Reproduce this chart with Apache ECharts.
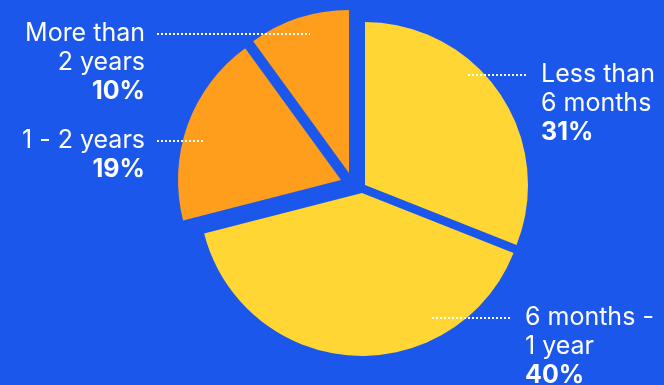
<!DOCTYPE html>
<html>
<head>
<meta charset="utf-8">
<script src="https://cdn.jsdelivr.net/npm/echarts@6/dist/echarts.min.js"></script>
<style>
  html, body { margin: 0; padding: 0; background: #1b57eb; }
  #chart { width: 664px; height: 385px; }
</style>
</head>
<body>
<div id="chart"></div>
<script>
const categories = ['Less than\n6 months', '6 months -\n1 year', '1 - 2 years', 'More than\n2 years']
const shares = [31, 40, 19, 10]

const sliceColors = ['#ffd633', '#ffd633', '#ff9d1c', '#ff9d1c']
// the pie is pulled apart a little: each slice has its own centre
const sliceCenters = [[365, 185], [362, 193], [341, 180], [349, 173]]
const radius = 163
// dotted leader line [x1, x2, y] and where the text starts
const leaders = [
  { line: [468, 526, 75], x: 541, align: 'left' },
  { line: [432, 510, 318], x: 525, align: 'left' },
  { line: [157, 205, 141], x: 145, align: 'right' },
  { line: [157, 310, 34], x: 145, align: 'right' }
]

const chart = echarts.init(document.getElementById('chart'))

// one pie per slice; withLabels=true gives an invisible copy on top that only carries the label,
// so the dotted leader is drawn over the coloured slice
function slicePie (k, withLabels) {
  return {
    type: 'pie',
    z: withLabels ? 3 : 2,
    center: sliceCenters[k],
    radius: radius,
    startAngle: 90,
    clockwise: true,
    silent: true,
    animation: false,
    emphasis: { disabled: true },
    data: shares.map((v, i) => ({
      value: v,
      name: categories[i],
      itemStyle: { color: (i === k && !withLabels) ? sliceColors[i] : 'transparent' },
      label: { show: withLabels && i === k },
      labelLine: { show: withLabels && i === k }
    })),
    label: {
      position: 'outside',
      overflow: 'none',
      width: 200,
      formatter: p => p.name.split('\n').map(s => '{t|' + s + '}').join('\n') + '\n{p|' + p.percent + '%}',
      rich: {
        t: { color: '#fff', fontSize: 25, lineHeight: 29, fontFamily: 'Inter' },
        p: { color: '#fff', fontSize: 25, lineHeight: 29, fontFamily: 'Inter', fontWeight: 'bold' }
      }
    },
    labelLine: {
      show: true,
      lineStyle: { color: '#fff', width: 2, type: [2, 2], cap: 'butt' }
    },
    labelLayout: () => {
      const l = leaders[k]
      const y = l.line[2]
      return {
        x: l.x,
        y: y - 15,
        align: l.align,
        verticalAlign: 'top',
        labelLinePoints: [[l.line[0], y], [(l.line[0] + l.line[1]) / 2, y], [l.line[1], y]]
      }
    }
  }
}

const series = []
categories.forEach((c, k) => series.push(slicePie(k, false)))
categories.forEach((c, k) => series.push(slicePie(k, true)))

chart.setOption({
  backgroundColor: '#1b57eb',
  series: series
})
</script>
</body>
</html>
